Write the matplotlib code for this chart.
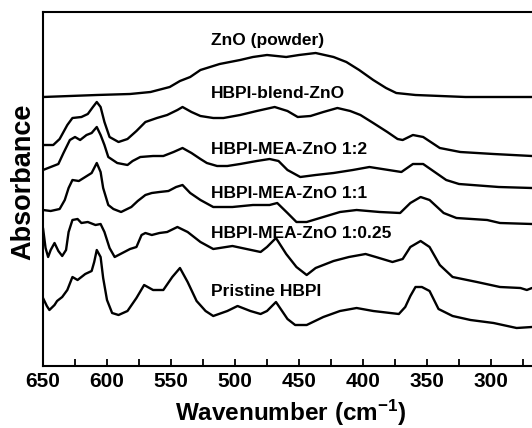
import matplotlib
matplotlib.use('Agg')
import matplotlib.pyplot as plt

## spectra (absorbance in arbitrary units, already stacked)
zno_wn = [650, 608, 582, 566, 551, 543, 535, 527, 512, 496, 486, 475, 460,
          450, 437, 423, 413, 403, 392, 382, 374, 359, 320, 267]
zno_abs = [269, 271, 272, 274, 279, 285, 289, 296, 302, 306, 309, 311, 309,
           311, 313, 309, 304, 296, 286, 278, 273, 271, 269, 269]

blend_wn = [650, 642, 637, 631, 627, 620, 615, 611, 608, 605, 602, 598, 591,
            584, 577, 570, 561, 553, 545, 541, 534, 527, 517, 509, 496, 483,
            469, 459, 451, 441, 431, 420, 410, 402, 392, 381, 373, 369, 361,
            353, 340, 324, 298, 268]
blend_abs = [221, 221, 227, 241, 248, 249, 252, 259, 264, 259, 244, 229, 224,
             227, 235, 244, 248, 251, 256, 259, 254, 250, 248, 248, 251, 255,
             259, 255, 249, 250, 254, 258, 255, 251, 243, 234, 227, 226, 231,
             229, 218, 214, 212, 210]

mea12_wn = [650, 644, 638, 634, 629, 625, 621, 616, 612, 608, 605, 602, 599,
            592, 584, 580, 574, 564, 556, 548, 541, 534, 527, 522, 514, 506,
            496, 483, 473, 466, 459, 449, 437, 423, 408, 395, 380, 370, 361,
            353, 344, 335, 325, 294, 268]
mea12_abs = [196, 199, 202, 213, 226, 229, 226, 231, 233, 239, 231, 221, 209,
             203, 201, 205, 209, 210, 210, 214, 218, 213, 207, 203, 200, 200,
             202, 205, 207, 205, 196, 189, 191, 193, 196, 199, 196, 194, 202,
             202, 194, 186, 182, 179, 178]

mea11_wn = [650, 644, 637, 633, 630, 627, 622, 617, 612, 610, 608, 605, 603,
            599, 595, 589, 581, 576, 570, 565, 559, 552, 546, 541, 535, 527,
            517, 502, 486, 473, 467, 459, 452, 444, 431, 418, 405, 387, 371,
            363, 355, 348, 337, 327, 303, 293, 268]
mea11_abs = [156, 155, 157, 166, 178, 186, 185, 189, 193, 198, 203, 194, 178,
             161, 157, 154, 159, 165, 171, 173, 174, 175, 179, 181, 173, 166,
             159, 159, 161, 161, 163, 153, 144, 144, 149, 154, 156, 154, 153,
             163, 169, 166, 153, 148, 146, 143, 142]

mea025_wn = [650, 648, 646, 644, 641, 638, 635, 632, 630, 627, 623, 620, 615,
             609, 605, 602, 598, 594, 588, 582, 577, 573, 570, 565, 559, 553,
             545, 537, 527, 517, 502, 491, 480, 475, 468, 460, 452, 444, 437,
             423, 411, 398, 390, 377, 369, 363, 355, 348, 340, 330, 311, 293,
             277, 272, 268]
mea025_abs = [138, 118, 109, 116, 123, 115, 110, 116, 134, 146, 147, 143, 144,
              141, 142, 134, 118, 109, 113, 117, 119, 131, 133, 131, 133, 134,
              139, 134, 124, 117, 120, 117, 114, 119, 128, 112, 99, 91, 98,
              105, 109, 112, 109, 104, 107, 119, 125, 119, 101, 89, 84, 79,
              78, 76, 78]

pristine_wn = [650, 647, 645, 641, 639, 635, 631, 627, 623, 617, 612, 610,
               608, 605, 603, 600, 596, 591, 584, 577, 571, 564, 556, 549,
               543, 537, 530, 523, 517, 506, 498, 488, 480, 475, 468, 459,
               453, 444, 431, 418, 405, 392, 372, 367, 363, 359, 354, 348,
               341, 330, 316, 298, 280, 268]
pristine_abs = [68, 60, 56, 61, 65, 69, 76, 89, 86, 92, 95, 104, 116, 109, 88,
                66, 53, 51, 55, 68, 81, 76, 76, 89, 98, 84, 65, 55, 50, 55,
                60, 55, 52, 55, 64, 47, 41, 41, 49, 55, 58, 55, 52, 59, 70,
                79, 79, 75, 57, 50, 46, 43, 38, 39]

labels = ['ZnO (powder)', 'HBPI-blend-ZnO', 'HBPI-MEA-ZnO 1:2',
          'HBPI-MEA-ZnO 1:1', 'HBPI-MEA-ZnO 1:0.25', 'Pristine HBPI']
xtick_labels = ['650', '600', '550', '500', '450', '400', '350', '300']

## font settings
plt.rcParams['font.family'] = 'Liberation Sans'
plt.rcParams['font.weight'] = 'bold'
plt.rcParams['mathtext.fontset'] = 'custom'
plt.rcParams['mathtext.rm'] = 'Liberation Sans:bold'
plt.rcParams['mathtext.default'] = 'rm'

fig = plt.figure(figsize=(5.32, 4.28), dpi=100)
# axes run past the right edge of the picture, like the cropped original
ax = fig.add_axes([43 / 532, 62 / 428, 512 / 532, 354 / 428])

spectra = [(zno_wn, zno_abs), (blend_wn, blend_abs), (mea12_wn, mea12_abs),
           (mea11_wn, mea11_abs), (mea025_wn, mea025_abs),
           (pristine_wn, pristine_abs)]
for wn, a in spectra:
    ax.plot(wn, a, color='black', linewidth=1.7, solid_joinstyle='round',
            solid_capstyle='round')

# label each trace, left aligned above it
label_y = [326, 273, 217, 173, 133, 74]
for text, y in zip(labels, label_y):
    ax.text(519, y, text, ha='left', va='center', fontsize=12.5,
            fontweight='bold')

ax.set_xlim(650, 250)
ax.set_ylim(0, 354)

## ticks
ax.set_xticks([int(t) for t in xtick_labels])
ax.set_xticklabels(xtick_labels)
ax.set_xticks(range(625, 260, -50), minor=True)
ax.tick_params(axis='x', which='both', direction='in', length=5, width=1.3,
               labelsize=15, pad=4)
ax.set_yticks([])
for lab in ax.get_xticklabels():
    lab.set_fontweight('bold')
for sp in ax.spines.values():
    sp.set_linewidth(1.5)

## axis titles
fig.text(23 / 532, 1 - 182 / 428, 'Absorbance', rotation=90, ha='center',
         va='center', fontsize=19.5, fontweight='bold')
fig.text(291 / 532, 1 - 413 / 428, 'Wavenumber (cm$^{-1}$)', ha='center',
         va='center', fontsize=17.5, fontweight='bold')

fig.savefig('out.png', dpi=100)
